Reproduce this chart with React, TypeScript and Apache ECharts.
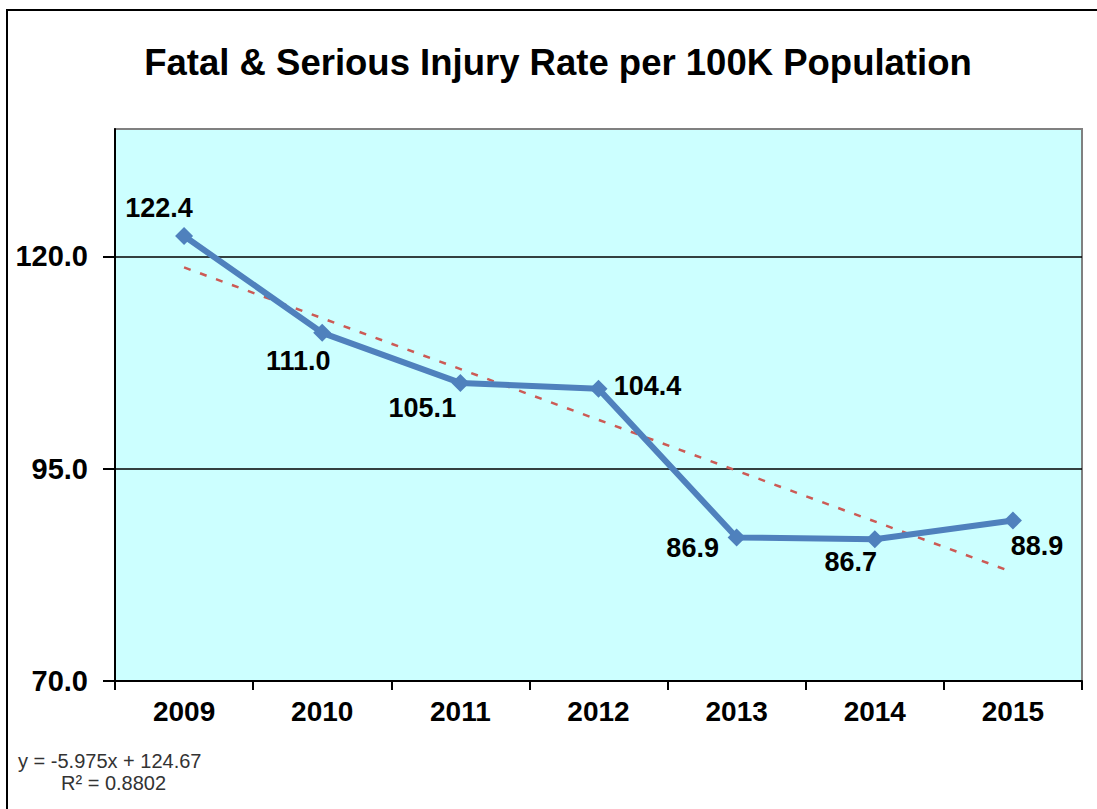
import React, { useEffect, useRef } from "react";
import * as echarts from "echarts";

const years = ["2009", "2010", "2011", "2012", "2013", "2014", "2015"];
const rates = [122.4, 111.0, 105.1, 104.4, 86.9, 86.7, 88.9];
// trend line end points (y = -5.975x + 124.67)
const trendValues = [118.7, null, null, null, null, null, 82.8];
const yTicks = [70, 95, 120];
const labelOffsets: [number, number][] = [
  [-25, -28],
  [-24, 28],
  [-38, 25],
  [49, -3],
  [-44, 11],
  [-24, 23],
  [24, 26],
];

const FONT = 'Arial, "Liberation Sans", sans-serif';

export default function App() {
  const ref = useRef<HTMLDivElement>(null);
  useEffect(() => {
    if (!ref.current) return;
    const chart = echarts.init(ref.current, undefined, { renderer: "svg" });
    chart.setOption({
      animation: false,
      backgroundColor: "#ffffff",
      grid: {
        left: 115,
        top: 129,
        right: 15,
        bottom: 128,
        show: true,
        backgroundColor: "#ccffff",
        borderColor: "#808080",
        borderWidth: 2,
      },
      xAxis: {
        type: "category",
        data: years,
        boundaryGap: true,
        axisLine: { lineStyle: { color: "#000", width: 2 } },
        axisTick: { show: true, length: 9, lineStyle: { color: "#000", width: 2 } },
        axisLabel: {
          color: "#000",
          fontFamily: FONT,
          fontWeight: "bold",
          fontSize: 28,
          margin: 16,
        },
        splitLine: { show: false },
      },
      yAxis: {
        type: "value",
        min: 70,
        max: 135,
        interval: 25,
        axisLine: { show: true, lineStyle: { color: "#000", width: 2 } },
        axisTick: {
          show: true,
          length: 12,
          inside: false,
          customValues: yTicks,
          lineStyle: { color: "#000", width: 2 },
        },
        axisLabel: {
          color: "#000",
          fontFamily: FONT,
          fontWeight: "bold",
          fontSize: 29,
          margin: 27,
          customValues: yTicks,
          formatter: (v: number) => (yTicks.includes(v) ? v.toFixed(1) : ""),
        },
        splitLine: {
          show: true,
          lineStyle: { color: ["#000", "#000", "#000", "#808080"], width: 1.5 },
        },
      },
      series: [
        {
          type: "line",
          data: trendValues,
          connectNulls: true,
          symbol: "none",
          silent: true,
          lineStyle: { color: "#cc5a55", width: 2.5, type: [7, 10] },
          z: 2,
        },
        {
          type: "line",
          data: rates.map((v, i) => ({
            value: v,
            label: { offset: labelOffsets[i] },
          })),
          symbol: "diamond",
          symbolSize: 18,
          itemStyle: { color: "#4f81bd" },
          lineStyle: { color: "#4f81bd", width: 6 },
          z: 3,
          label: {
            show: true,
            position: "inside",
            color: "#000",
            fontFamily: FONT,
            fontWeight: "bold",
            fontSize: 27,
            formatter: (p: any) => Number(p.value).toFixed(1),
          },
        },
      ],
      graphic: [
        {
          type: "rect",
          shape: { x: 7, y: 10, width: 1100, height: 820 },
          style: { fill: "none", stroke: "#000", lineWidth: 2 },
          silent: true,
        },
        {
          type: "text",
          x: 558,
          y: 62,
          style: {
            text: "Fatal & Serious Injury Rate per 100K Population",
            fill: "#000",
            font: `bold 36.5px ${FONT}`,
            textAlign: "center",
            textVerticalAlign: "middle",
          },
        },
        {
          type: "text",
          x: 18,
          y: 761,
          style: {
            text: "y = -5.975x + 124.67",
            fill: "#333",
            font: `20px ${FONT}`,
            textAlign: "left",
            textVerticalAlign: "middle",
          },
        },
        {
          type: "text",
          x: 61,
          y: 783,
          style: {
            text: "R² = 0.8802",
            fill: "#333",
            font: `20px ${FONT}`,
            textAlign: "left",
            textVerticalAlign: "middle",
          },
        },
      ],
    });
    return () => chart.dispose();
  }, []);
  return (
    <div
      ref={ref}
      style={{ position: "fixed", left: 0, top: 0, width: 1097, height: 809 }}
    />
  );
}
